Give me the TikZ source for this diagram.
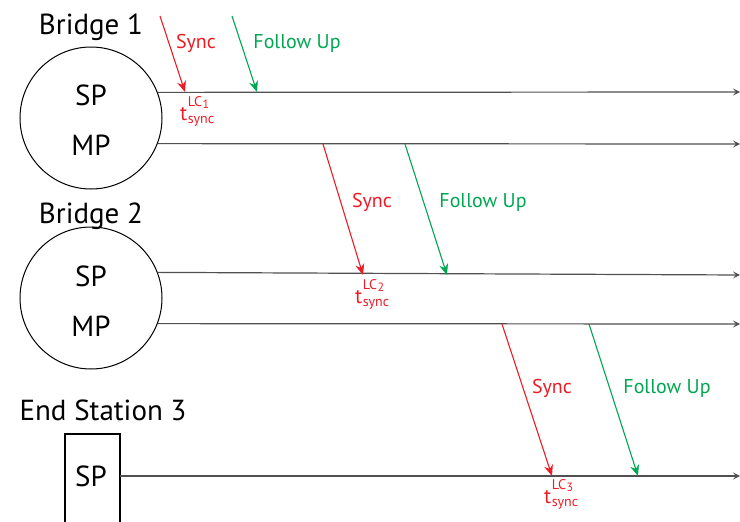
\documentclass[tikz,border=0pt]{standalone}
\usepackage{fontspec}
\setmainfont{PT Sans}
\usetikzlibrary{arrows.meta}
\definecolor{syncred}{RGB}{237,28,36}
\definecolor{fupgreen}{RGB}{0,166,81}
\definecolor{linegray}{RGB}{80,80,80}
\newcommand{\tsyncat}[1]{{\fontsize{21}{24}\selectfont t}\kern0.5pt{\fontsize{14}{16}\selectfont
  \rlap{\raisebox{14pt}{LC\kern0.5pt\raisebox{-2.5pt}{\fontsize{12}{14}\selectfont #1}}}\raisebox{-3pt}{sync}}}
\tikzset{
  bigtext/.style={font=\fontsize{29}{34}\selectfont},
  msgtext/.style={font=\fontsize{20}{24}\selectfont},
  bridge/.style={circle,draw,line width=1pt,minimum size=142pt,inner sep=0pt},
  timeline/.style={draw=linegray,line width=1.2pt,-{Stealth[length=7pt,width=7pt,inset=3pt]}},
  syncmsg/.style={draw=syncred,line width=1.1pt,-{Stealth[length=11pt,width=9pt]}},
  fupmsg/.style={draw=fupgreen,line width=1.1pt,-{Stealth[length=11pt,width=9pt]}}
}
\begin{document}
\begin{tikzpicture}[x=1pt,y=-1pt]
  \useasboundingbox (0,0) rectangle (740,522);
  \node[bridge] (b1) at (91,118) {};
  \node[bridge] (b2) at (91,298) {};
  \draw[line width=1.6pt] (65,530) |- (120,434) -- (120,530);
  \node[bigtext] (b1name) at (91,27) {Bridge 1};
  \node[bigtext] (b2name) at (91,216) {Bridge 2};
  \node[bigtext] (es3name) at (103,410) {End Station 3};
  \node[bigtext] (b1sp) at (91,95) {SP};
  \node[bigtext] (b1mp) at (91,145) {MP};
  \node[bigtext] (b2sp) at (91,276) {SP};
  \node[bigtext] (b2mp) at (91,326) {MP};
  \node[bigtext] (es3sp) at (91,476) {SP};
  \coordinate (b1spend) at (740,92);
  \coordinate (b1mpend) at (740,144);
  \coordinate (b2spend) at (740,275);
  \coordinate (b2mpend) at (740,324);
  \coordinate (es3start) at (120,476);
  \coordinate (es3end) at (740,476);
  \draw[timeline] (b1.21.5) -- (b1spend);
  \draw[timeline] (b1.-21.5) -- (b1mpend);
  \draw[timeline] (b2.21.5) -- (b2spend);
  \draw[timeline] (b2.-21.5) -- (b2mpend);
  \draw[timeline] (es3start) -- (es3end);
  \coordinate (s1a) at (160,16);
  \coordinate (s1b) at (185,92);
  \coordinate (f1a) at (232,16);
  \coordinate (f1b) at (257,92);
  \coordinate (s2a) at (323,144);
  \coordinate (s2b) at (363,275);
  \coordinate (f2a) at (405,144);
  \coordinate (f2b) at (447,275);
  \coordinate (s3a) at (502,324);
  \coordinate (s3b) at (552,476);
  \coordinate (f3a) at (589,324);
  \coordinate (f3b) at (638,476);
  \draw[syncmsg] (s1a) -- (s1b);
  \draw[fupmsg] (f1a) -- (f1b);
  \draw[syncmsg] (s2a) -- (s2b);
  \draw[fupmsg] (f2a) -- (f2b);
  \draw[syncmsg] (s3a) -- (s3b);
  \draw[fupmsg] (f3a) -- (f3b);
  \node[msgtext,syncred] (s1label) at (196,43) {Sync};
  \node[msgtext,fupgreen] (f1label) at (297,43) {Follow Up};
  \node[msgtext,syncred] (s2label) at (372,202) {Sync};
  \node[msgtext,fupgreen] (f2label) at (483,202) {Follow Up};
  \node[msgtext,syncred] (s3label) at (552,388) {Sync};
  \node[msgtext,fupgreen] (f3label) at (667,388) {Follow Up};
  \node[syncred,anchor=base west,inner sep=0pt] (t1) at (180,120) {\tsyncat{1}};
  \node[syncred,anchor=base west,inner sep=0pt] (t2) at (355,303) {\tsyncat{2}};
  \node[syncred,anchor=base west,inner sep=0pt] (t3) at (544,503) {\tsyncat{3}};
\end{tikzpicture}
\end{document}
